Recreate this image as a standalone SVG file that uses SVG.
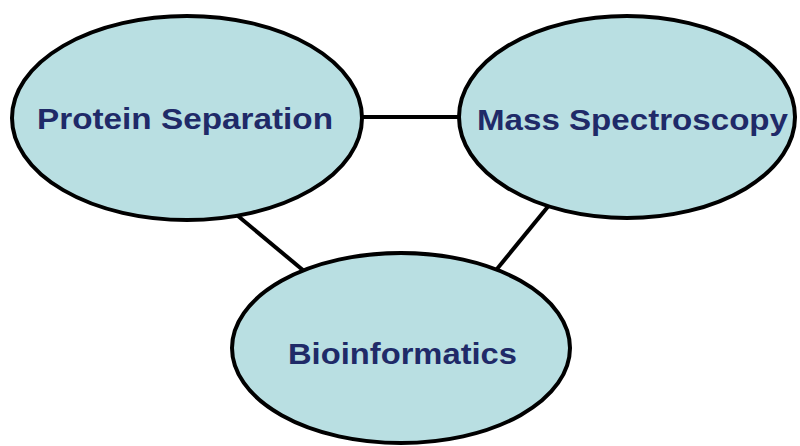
<svg xmlns="http://www.w3.org/2000/svg" width="800" height="446" viewBox="0 0 800 446">
  <style>
    .node { fill: #b9dfe2; stroke: #000; stroke-width: 4; }
    .link { stroke: #000; stroke-width: 4; fill: none; }
    .label { font-family: "Liberation Sans", Arial, sans-serif; font-weight: bold; font-size: 30px; fill: #1f2a68; }
  </style>
  <rect width="800" height="446" fill="#fff"/>
  <g id="connectors">
    <line class="link" x1="340" y1="117" x2="480" y2="117"/>
    <line class="link" x1="232" y1="211" x2="310" y2="276"/>
    <line class="link" x1="555" y1="198" x2="488" y2="280"/>
  </g>
  <g id="protein-separation">
    <ellipse class="node" cx="187" cy="118" rx="175" ry="102"/>
    <text class="label" x="37" y="129" textLength="296" lengthAdjust="spacingAndGlyphs">Protein Separation</text>
  </g>
  <g id="mass-spectroscopy">
    <ellipse class="node" cx="627" cy="117" rx="168" ry="101"/>
    <text class="label" x="477" y="130" textLength="311" lengthAdjust="spacingAndGlyphs">Mass Spectroscopy</text>
  </g>
  <g id="bioinformatics">
    <ellipse class="node" cx="401" cy="348" rx="169" ry="95"/>
    <text class="label" x="288" y="364" textLength="229" lengthAdjust="spacingAndGlyphs">Bioinformatics</text>
  </g>
</svg>
